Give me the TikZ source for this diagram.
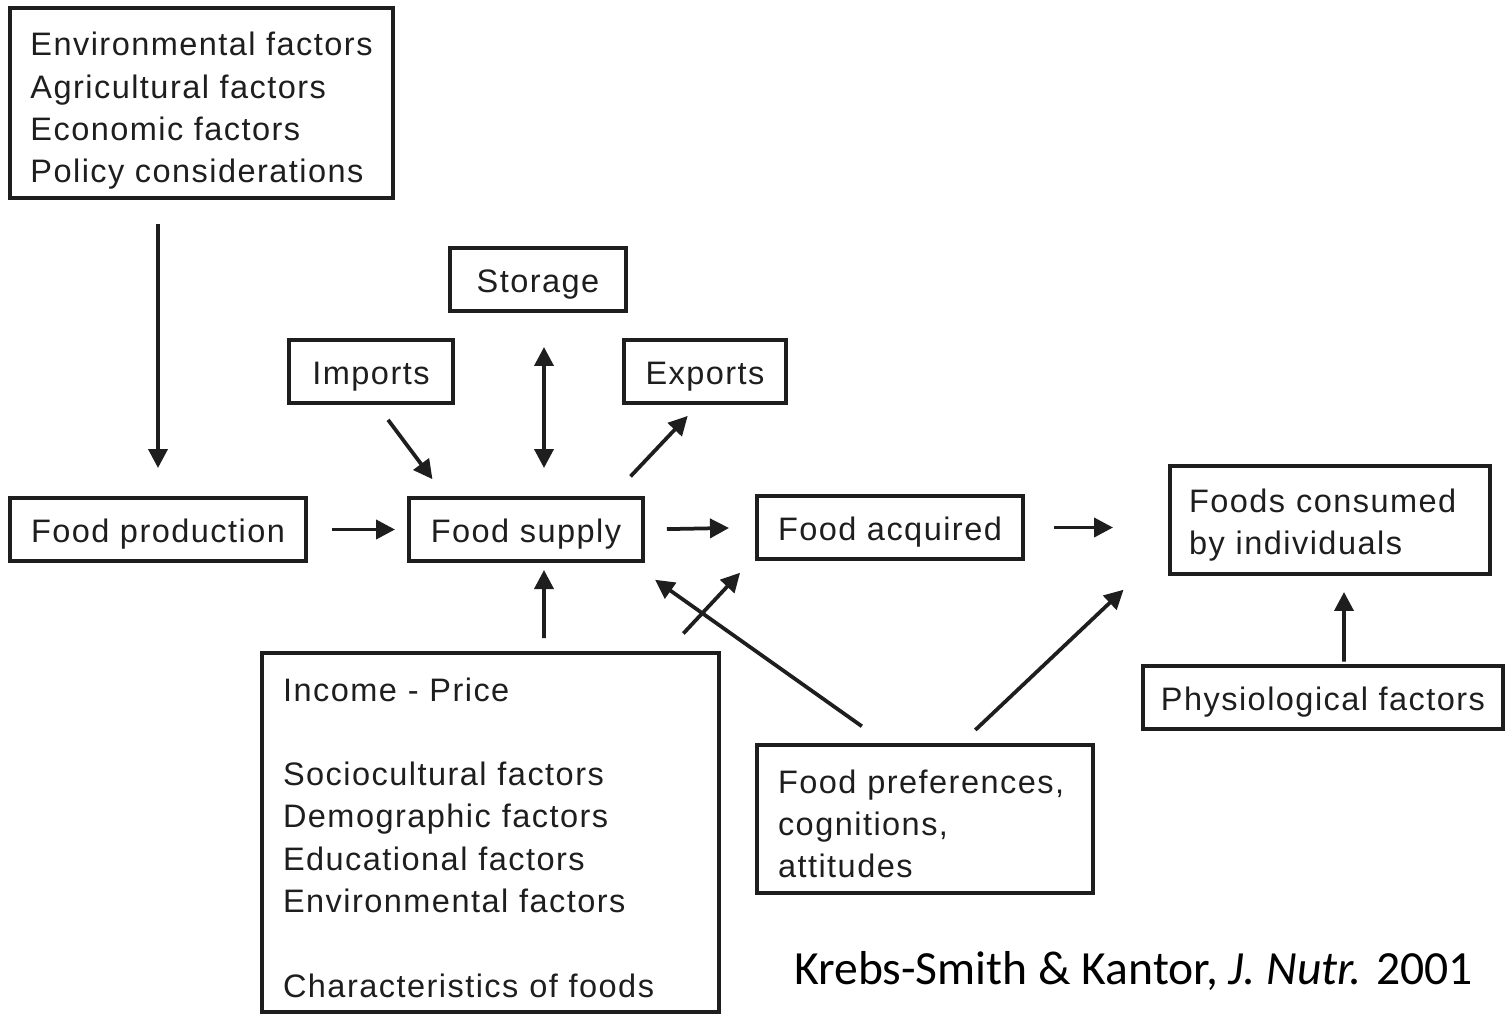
\documentclass[tikz,border=0pt]{standalone}
\usepackage{fontspec}
\setmainfont{Liberation Sans}[LetterSpace=4.5]
\newfontfamily\citefont{Carlito}
\usetikzlibrary{arrows.meta}
\definecolor{ink}{RGB}{30,30,30}

\begin{document}
\begin{tikzpicture}[x=0.02cm, y=-0.02cm,
  box/.style={draw=ink, line width=0.08cm, inner sep=0pt, minimum height=1.26cm,
    text=ink, font=\fontsize{18.5}{24.1}\selectfont,
    execute at begin node={\rule{0pt}{19pt}}},
  leftbox/.style={box, align=left, inner xsep=0.42cm},
  arr/.style={ink, line width=0.075cm, -{Triangle[length=0.38cm, width=0.38cm]}},
  arrboth/.style={arr, {Triangle[length=0.38cm, width=0.38cm]}-{Triangle[length=0.38cm, width=0.38cm]}}]
\useasboundingbox (0,0) rectangle (1507,1015);

% Boxes with one line of text
\foreach \name/\px/\py/\w/\txt in {sto/538/279.5/3.52/Storage, imp/371/371.5/3.28/Imports,
    exp/705/371.5/3.24/Exports, prod/158/529.5/5.92/Food production,
    sup/526/529.5/4.68/Food supply, acq/890/527.5/5.32/Food acquired,
    phy/1323/697/7.2/Physiological factors} {
  \node[box, minimum width=\w cm] (\name) at (\px,\py) {\txt};
}

% Boxes with several lines
\node[box, align=left, minimum width=7.66cm, minimum height=3.8cm] (env) at (201.5,103)
  {\rule{0pt}{22.3pt}Environmental factors\\ Agricultural factors\\ Economic factors\\ Policy considerations};
\node[leftbox, inner xsep=0.38cm, text width=5.64cm, minimum height=2.16cm] (cons) at (1330,520)
  {Foods consumed\\ by individuals};
\node[leftbox, text width=8.3cm, minimum height=7.18cm] (inc) at (490.5,832.5)
  {Income - Price\\[24pt] Sociocultural factors\\ Demographic factors\\ Educational factors\\
   Environmental factors\\[24pt] Characteristics of foods};
\node[leftbox, text width=5.88cm, minimum height=2.96cm] (pref) at (925,819)
  {Food preferences,\\ cognitions,\\ attitudes};

% Source
\node[font=\citefont\fontsize{27.1}{33}\selectfont] (cite) at (1133.5,971)
  {Krebs-Smith \& Kantor, \textit{J. Nutr.} 2001};

% Arrows along the chain
\draw[arr, shorten <=0.48cm, shorten >=0.56cm] (prod.north |- env.south) -- (prod.north);
\draw[arr, shorten <=0.48cm, shorten >=0.24cm] (prod.east) -- (sup.west);
\draw[arr, shorten <=0.37cm, shorten >=0.42cm] ([xshift=0.12cm]imp.south) -- ([xshift=-1.62cm]sup.north);
\draw[arrboth, shorten <=0.56cm, shorten >=0.68cm] ([xshift=0.36cm]sup.north) -- ([xshift=0.12cm]sto.south);
\draw[arr, shorten <=0.54cm, shorten >=0.30cm] ([xshift=1.72cm]sup.north) -- ([xshift=-0.14cm]exp.south);
\draw[arr, shorten <=0.44cm, shorten >=0.52cm] (sup.east) -- (acq.west);
\draw[arr, shorten <=0.58cm, shorten >=1.1cm] (acq.east) -- (acq.east -| cons.west);

% Arrows from the factors
\draw[arr, shorten <=0.26cm, shorten >=0.14cm] ([xshift=1.07cm]inc.north) -- ([xshift=0.36cm]sup.south);
\draw[arr, shorten <=0.48cm, shorten >=0.32cm] ([xshift=3.53cm]inc.north) -- ([xshift=-2.78cm]acq.south);
\draw[arr, shorten <=0.58cm, shorten >=0.58cm] ([xshift=-0.79cm]pref.north) -- ([xshift=2.11cm]sup.south);
\draw[arr, shorten <=0.38cm, shorten >=0.4cm] ([xshift=0.73cm]pref.north) -- ([xshift=-0.6cm]cons.south west);
\draw[arr, shorten <=0.04cm, shorten >=0.32cm] ([xshift=0.42cm]phy.north) -- ([xshift=0.28cm]cons.south);
\end{tikzpicture}
\end{document}
